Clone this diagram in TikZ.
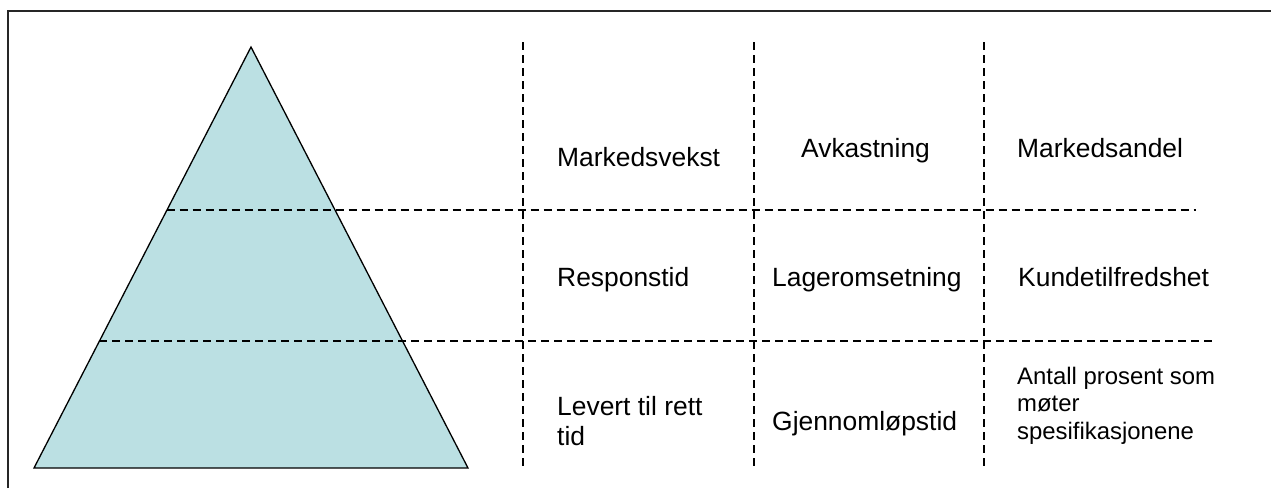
\documentclass[tikz,border=0pt]{standalone}
\usepackage{fontspec}
\setmainfont{Liberation Sans}
\definecolor{pyramid}{RGB}{187,224,227}
\begin{document}
\begin{tikzpicture}[x=1pt,y=-1pt,
  frame/.style={line width=1.8pt,black!85},
  edge/.style={line width=1.3pt,line join=miter},
  grid/.style={line width=1.1pt,dash pattern=on 8pt off 5pt},
  label/.style={anchor=base west,inner sep=0pt,font=\fontsize{26.4}{29.5}\selectfont,align=left},
  small/.style={anchor=base west,inner sep=0pt,align=left,font=\fontsize{23.9}{27.2}\selectfont}]
\useasboundingbox (0,0) rectangle (1271,488);

% open frame: top and left edges only
\draw[frame] (8,488) -- (8,11) -- (1271,11);

% pyramid
\coordinate (apex) at (251,47);
\coordinate (bl) at (34,468);
\coordinate (br) at (468,468);
\filldraw[fill=pyramid,edge] (apex) -- (br) -- (bl) -- cycle;

% level separators
\coordinate (h1a) at (166.5,210);
\coordinate (h1b) at (1196,210);
\coordinate (h2a) at (99,341);
\coordinate (h2b) at (1213,341);
\draw[grid] (h1a) -- (h1b);
\draw[grid] (h2a) -- (h2b);

% column separators
\foreach \x/\n in {523/c1,754/c2,984/c3} {
  \coordinate (\n t) at (\x,42);
  \coordinate (\n b) at (\x,469);
  \draw[grid] (\n t) -- (\n b);
}

% top level
\node[label] (mv) at (557,166) {Markedsvekst};
\node[label] (ak) at (801,157) {Avkastning};
\node[label] (ma) at (1017,157) {Markedsandel};

% middle level
\node[label] (rt) at (557,286) {Responstid};
\node[label] (lo) at (772,286) {Lageromsetning};
\node[label] (kt) at (1018,286) {Kundetilfredshet};

% bottom level (multi-line nodes sit on their last baseline)
\node[label] (lt) at (557,445) {Levert til rett\\tid};
\node[label] (gt) at (772,430) {Gjennomløpstid};
\node[small] (ap) at (1017,439) {Antall prosent som\\møter\\spesifikasjonene};
\end{tikzpicture}
\end{document}
